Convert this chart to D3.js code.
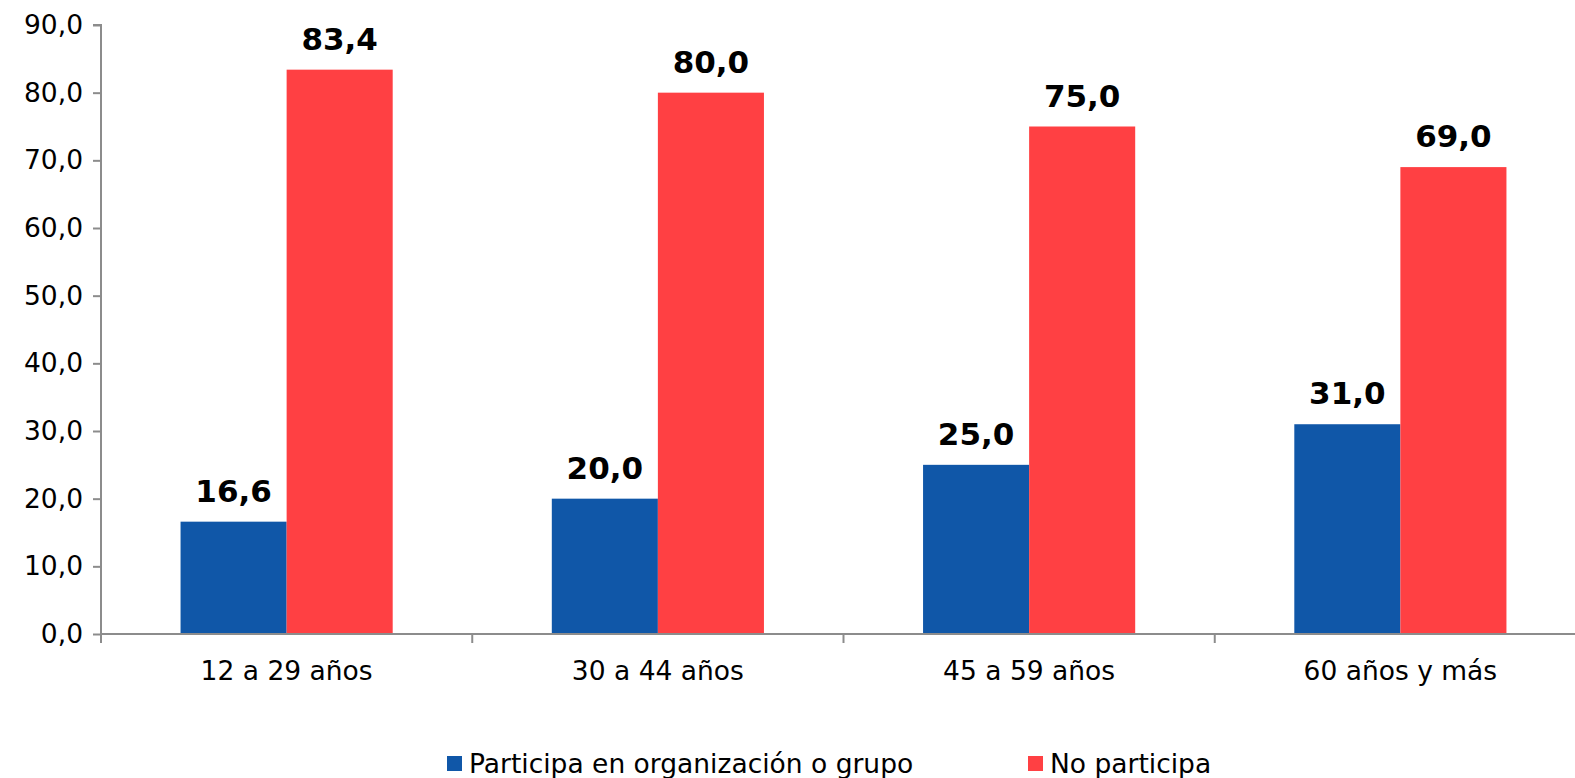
<!DOCTYPE html>
<html>
<head>
<meta charset="utf-8">
<script src="https://cdn.jsdelivr.net/npm/d3@7"></script>
<style>
html,body{margin:0;padding:0;background:#fff;overflow:hidden;}
text{font-family:"DejaVu Sans",Verdana,sans-serif;}
</style>
</head>
<body>
<svg id="chart" width="1575" height="778"></svg>
<script>
const categories = ["12 a 29 años","30 a 44 años","45 a 59 años","60 años y más"];
const seriesNames = ["Participa en organización o grupo","No participa"];
const participa = [16.6, 20.0, 25.0, 31.0];
const noParticipa = [83.4, 80.0, 75.0, 69.0];
const yTicks = [0,10,20,30,40,50,60,70,80,90];
const colors = ["#1057A8","#FF4043"];

(function(){
const svg = d3.select("#chart");
const mLeft = 101, mRight = 1586, mTop = 25, mBottom = 634, canvasRight = 1575;
const fmt = v => d3.format(".1f")(v).replace(".", ",");

const y = d3.scaleLinear().domain([0,90]).range([mBottom, mTop]);
const x0 = d3.scaleBand().domain(categories).range([mLeft, mRight]).padding(0);
const x1 = d3.scaleBand().domain(seriesNames).range([0, x0.bandwidth()]).paddingInner(0).paddingOuter(0.75);

const data = categories.map((c,i)=>({cat:c, vals:[participa[i], noParticipa[i]]}));

const g = svg.append("g");
data.forEach(d=>{
  d.vals.forEach((v,j)=>{
    g.append("rect")
      .attr("x", x0(d.cat)+x1(seriesNames[j]))
      .attr("y", y(v))
      .attr("width", x1.bandwidth())
      .attr("height", y(0)-y(v))
      .attr("fill", colors[j]);
    g.append("text")
      .attr("x", x0(d.cat)+x1(seriesNames[j])+x1.bandwidth()/2)
      .attr("y", y(v)-20)
      .attr("text-anchor","middle")
      .attr("font-size", 31)
      .attr("font-weight","bold")
      .attr("fill","#000")
      .text(fmt(v));
  });
});

const yAxis = d3.axisLeft(y).tickValues(yTicks).tickFormat(fmt).tickSize(8).tickPadding(10);
const ya = svg.append("g").attr("transform",`translate(${mLeft},0)`).call(yAxis);
ya.select(".domain").attr("stroke","#8c8c8c").attr("stroke-width",2).attr("d",`M-8,${mTop}H0V${mBottom}`);
ya.selectAll(".tick line").attr("stroke","#8c8c8c").attr("stroke-width",2);
ya.selectAll(".tick text").attr("font-size",26.5).attr("fill","#000").attr("font-family","DejaVu Sans, Verdana, sans-serif");

const xa = svg.append("g").attr("transform",`translate(0,${mBottom})`);
xa.append("line").attr("x1",mLeft).attr("x2",canvasRight).attr("y1",0).attr("y2",0).attr("stroke","#8c8c8c").attr("stroke-width",2);
const bounds = categories.map(c=>x0(c));
bounds.forEach(b=>{
  xa.append("line").attr("x1",b).attr("x2",b).attr("y1",0).attr("y2",9).attr("stroke","#8c8c8c").attr("stroke-width",2);
});
categories.forEach(c=>{
  xa.append("text").attr("x", x0(c)+x0.bandwidth()/2).attr("y", 46)
    .attr("text-anchor","middle").attr("font-size",26.5).attr("fill","#000").text(c);
});

const legendX = [447, 1028];
seriesNames.forEach((s,j)=>{
  svg.append("rect").attr("x",legendX[j]).attr("y",756).attr("width",15).attr("height",15).attr("fill",colors[j]);
  svg.append("text").attr("x",legendX[j]+22).attr("y",773).attr("font-size",26.5).attr("fill","#000").text(s);
});
})();
</script>
</body>
</html>
